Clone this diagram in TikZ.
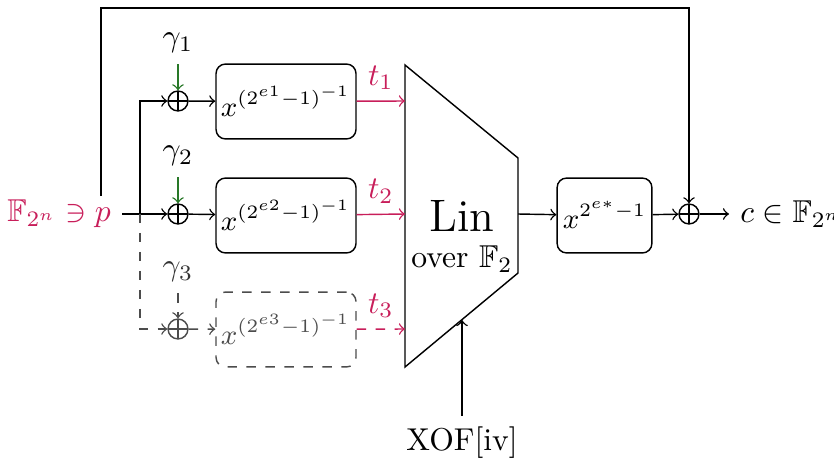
\documentclass[tikz,border=0pt]{standalone}
\usepackage{amssymb}
\definecolor{accent}{RGB}{200,30,90}
\definecolor{keygreen}{RGB}{40,120,40}
% power expression with its baseline set below the box centre
\newcommand{\powtext}[2]{\raisebox{-#1}[0pt][0pt]{$#2$}}
\begin{document}
\begin{tikzpicture}[x=0.3165pt,y=-0.3165pt,line width=0.45pt,
  xorgate/.style={circle,draw,minimum size=6.3pt,inner sep=0pt,
    path picture={\draw (path picture bounding box.north) -- (path picture bounding box.south)
                        (path picture bounding box.west) -- (path picture bounding box.east);}},
  powbox/.style={draw,rounded corners=3pt,minimum width=44.3pt,minimum height=23.7pt,
    inner xsep=1pt,inner ysep=1pt,font=\small},
  ghost/.style={black!70,dashed},
  wire/.style={->}
]
\useasboundingbox (0,0) rectangle (834,459);

% input and branch point
\node[accent,anchor=east] (inp) at (122,214) {$\mathbb{F}_{2^n}\ni p$};
\coordinate (fb) at (101,196);
\coordinate (fbtop) at (101,8);
\coordinate (br) at (140,214);

% xor gates
\node[xorgate] (x1) at (178,101) {};
\node[xorgate] (x2) at (178,214) {};
\node[xorgate,black!70] (x3) at (178,329) {};
\node[xorgate] (x4) at (689,214) {};

% round constants
\node (g1) at (178,43) {$\gamma_1$};
\node (g2) at (178,156) {$\gamma_2$};
\node[black!80] (g3) at (178,272) {$\gamma_3$};

% power boxes
\node[powbox] (b1) at (286,101.5) {\powtext{4.8pt}{x^{(2^{e1}-1)^{-1}}}};
\node[powbox] (b2) at (286,215.5) {\powtext{4.8pt}{x^{(2^{e2}-1)^{-1}}}};
\node[powbox,ghost,text=black!70] (b3) at (286,329.5) {\powtext{4.8pt}{x^{(2^{e3}-1)^{-1}}}};
\node[powbox,minimum width=30pt] (b4) at (604.5,215.5) {\powtext{4.2pt}{x^{2^{e*}-1}}};

% linear layer
\draw (405,65) coordinate (lnw) -- (518,158) coordinate (lne)
  -- (518,273) coordinate (lse) -- (405,367) coordinate (lsw) -- cycle;
\coordinate (in1) at (405,101);
\coordinate (in2) at (405,214);
\coordinate (in3) at (405,329);
\coordinate (lout) at (518,214);
\coordinate (lkey) at (462,320);
\node[inner sep=0pt] (lin) at (462,216) {\Large Lin};
\node[inner sep=0pt] (over) at (462,259) {over $\mathbb{F}_2$};

% output and xof
\node[anchor=west] (out) at (729,214) {$c\in\mathbb{F}_{2^n}$};
\node (xof) at (462,443) {XOF[iv]};

% connections
\draw[wire] (inp.east) -- (x2.west);
\draw[wire] (br) |- (x1.west);
\draw[wire,ghost] (br) |- (x3.west);
\draw[wire,keygreen] (g1) -- (x1.north);
\draw[wire,keygreen] (g2) -- (x2.north);
\draw[wire,ghost] (g3) -- (x3.north);
\draw[wire] (x1) -- (b1);
\draw[wire] (x2) -- (b2);
\draw[wire,ghost] (x3) -- (b3);
\draw[wire,accent] (b1) -- (in1) node[midway,above] {$t_1$};
\draw[wire,accent] (b2) -- (in2) node[midway,above] {$t_2$};
\draw[wire,accent,dashed] (b3) -- (in3) node[midway,above] {$t_3$};
\draw[wire] (lout) -- (b4);
\draw[wire] (b4) -- (x4);
\draw[wire] (x4) -- (out.west);
\draw[wire] (xof) -- (lkey);
\draw[wire] (fb) -- (fbtop) -| (x4.north);
\end{tikzpicture}
\end{document}
